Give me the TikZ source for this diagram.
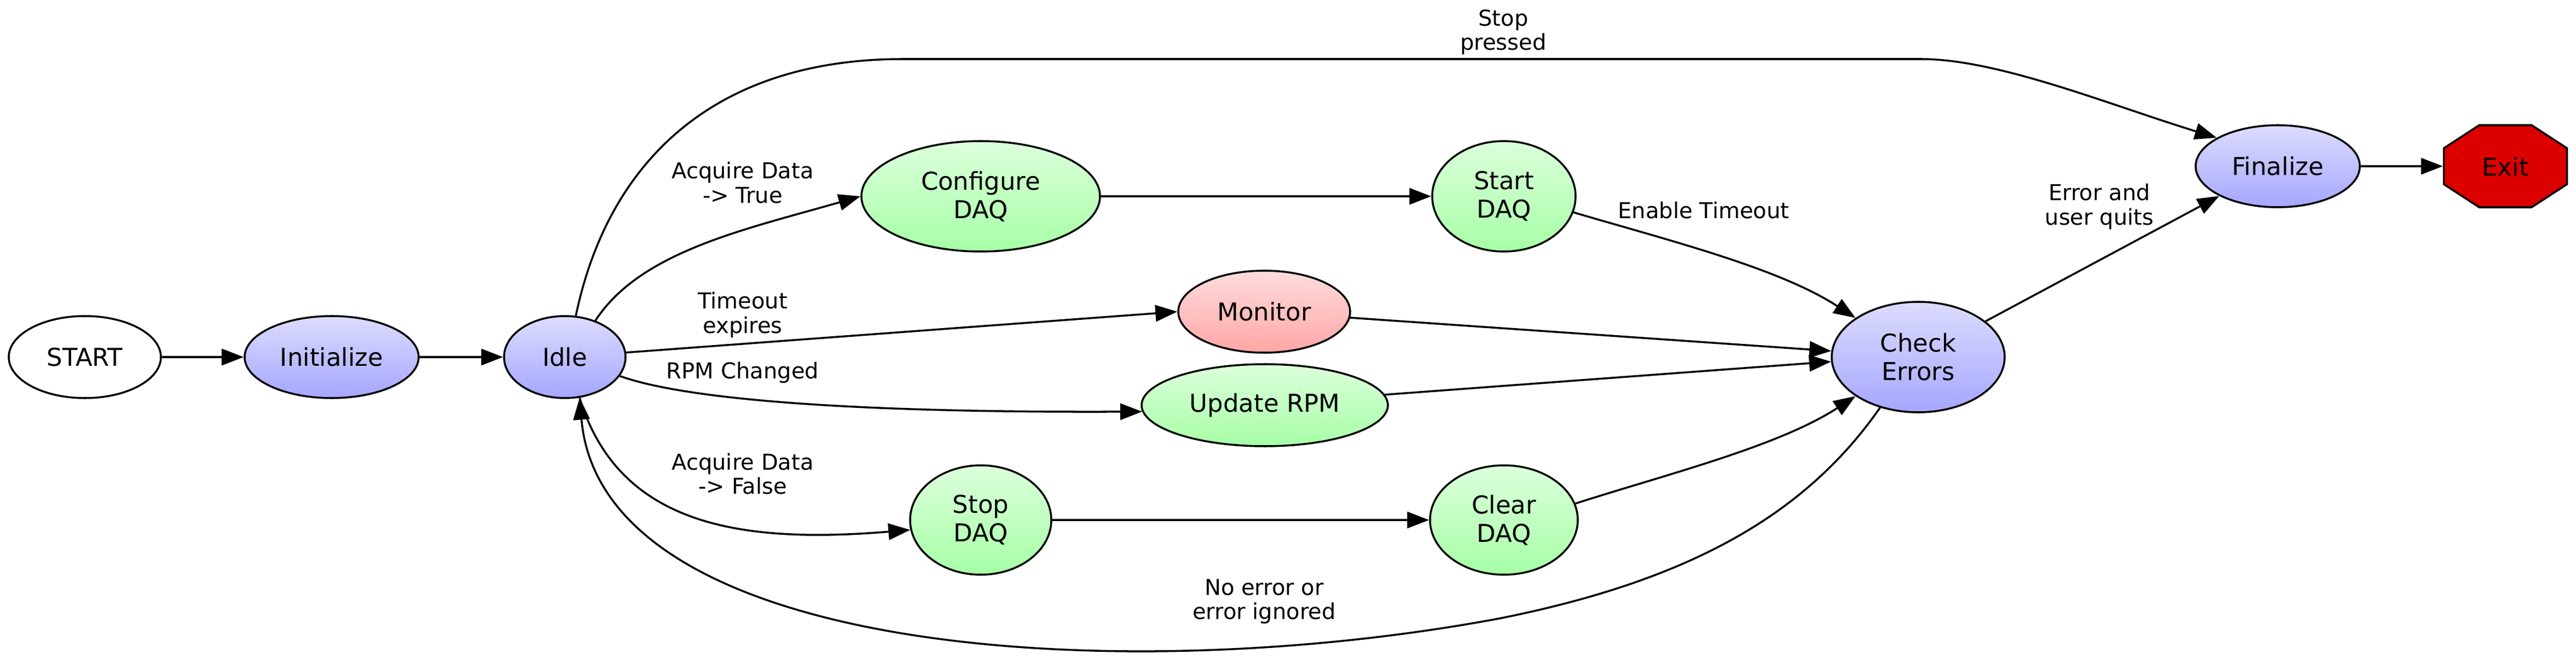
\documentclass[tikz,border=0pt]{standalone}
\usepackage{fontspec}
\setmainfont{DejaVu Sans}
\usetikzlibrary{shapes.geometric,arrows.meta}

\definecolor{bluetop}{HTML}{DCDCFF}
\definecolor{bluebot}{HTML}{A6A6FF}
\definecolor{greentop}{HTML}{DCFFDC}
\definecolor{greenbot}{HTML}{A6FFA6}
\definecolor{redtop}{HTML}{FFDCDC}
\definecolor{redbot}{HTML}{FFA6A6}
\definecolor{exitred}{HTML}{DD0000}

\newcommand{\statefont}{\fontsize{12.8}{14.8}\selectfont}
\newcommand{\labelfont}{\fontsize{11.4}{12.6}\selectfont}

\begin{document}
\begin{tikzpicture}[
	>={Triangle[length=0.4cm,width=0.3cm]},
	line width=1pt,
	startnode/.style={ellipse,draw,inner sep=0pt,minimum width=2.78cm,minimum height=1.5cm,font=\statefont},
	ctrlnode/.style={ellipse,draw,top color=bluetop,bottom color=bluebot,inner sep=0pt,minimum height=1.5cm,align=center,font=\statefont},
	daqnode/.style={ellipse,draw,top color=greentop,bottom color=greenbot,inner sep=0pt,minimum height=1.5cm,align=center,font=\statefont},
	monnode/.style={ellipse,draw,top color=redtop,bottom color=redbot,inner sep=0pt,minimum height=1.5cm,align=center,font=\statefont},
	exitnode/.style={rectangle,inner sep=0pt,minimum width=2.25cm,minimum height=1.5cm,font=\statefont},
	edgelabel/.style={align=center,inner sep=0pt,font=\labelfont}
]
\useasboundingbox (0,0) rectangle (47.07,-12.07);

% Zustaende
\node[startnode] (start) at (1.55,-6.53) {START};
\node[ctrlnode,minimum width=3.18cm] (init) at (6.06,-6.53) {Initialize};
\node[ctrlnode,minimum width=2.22cm] (idle) at (10.32,-6.53) {Idle};

\node[daqnode,minimum width=4.36cm,minimum height=2.02cm] (config) at (17.92,-3.59) {Configure\\DAQ};
\node[daqnode,minimum width=2.62cm,minimum height=2.02cm] (startdaq) at (27.48,-3.59) {Start\\DAQ};
\node[monnode,minimum width=3.14cm] (monitor) at (23.10,-5.70) {Monitor};
\node[daqnode,minimum width=4.50cm] (update) at (23.11,-7.41) {Update RPM};
\node[daqnode,minimum width=2.58cm,minimum height=2.0cm] (stopdaq) at (17.92,-9.51) {Stop\\DAQ};
\node[daqnode,minimum width=2.70cm,minimum height=2.0cm] (clear) at (27.48,-9.51) {Clear\\DAQ};

\node[ctrlnode,minimum width=3.16cm,minimum height=2.02cm] (check) at (35.05,-6.53) {Check\\Errors};
\node[ctrlnode,minimum width=3.0cm] (final) at (41.62,-3.04) {Finalize};

% Exit
\filldraw[fill=exitred,shift={(45.78,-3.04)}] (-0.48,0.75) -- (0.48,0.75) -- (1.125,0.33) -- (1.125,-0.33) -- (0.48,-0.75) -- (-0.48,-0.75) -- (-1.125,-0.33) -- (-1.125,0.33) -- cycle;
\node[exitnode] (exit) at (45.78,-3.04) {Exit};

% Uebergaenge
\draw[->] (start) -- (init);
\draw[->] (init) -- (idle);
\draw[->] (idle.50) .. controls (11.7,-4.6) and (13.6,-4.2) .. (config.west);
\draw[->] (idle.75) .. controls (11.1,-3.0) and (13.0,-1.08) .. (16.5,-1.08) -- (35.1,-1.08) .. controls (36.5,-1.08) and (38.5,-1.9) .. (final.155);
\draw[->] (idle) -- (monitor.west);
\draw[->] (idle.341) .. controls (12.5,-7.3) and (15.5,-7.55) .. (update.183);
\draw[->] (idle.290) .. controls (11.3,-9.6) and (13.5,-9.95) .. (stopdaq.188);
\draw[->] (config) -- (startdaq);
\draw[->] (stopdaq) -- (clear);
\draw[->] (startdaq.-13) .. controls (30.5,-4.4) and (32.5,-4.9) .. (check.148);
\draw[->] (monitor.-4) -- (check.176);
\draw[->] (update.5) -- (check.183);
\draw[->] (clear.13) .. controls (30.5,-8.66) and (32.5,-8.16) .. (check.212);
\draw[->] (check.233) .. controls (33.0,-9.4) and (30.9,-10.61) .. (27.4,-11.31) .. controls (20.5,-12.6) and (11.0,-12.0) .. (idle.290);
\draw[->] (check.28) -- (final.207);
\draw[->] (final) -- (exit);

% Beschriftungen
\node[edgelabel] (lbltrue) at (13.57,-3.34) {Acquire Data\\-> True};
\node[edgelabel] (lblstop) at (27.47,-0.585) {Stop\\pressed};
\node[edgelabel] (lbltimeout) at (13.57,-5.76) {Timeout\\expires};
\node[edgelabel] (lblrpm) at (13.57,-6.81) {RPM Changed};
\node[edgelabel] (lblfalse) at (13.57,-8.665) {Acquire Data\\-> False};
\node[edgelabel] (lblenable) at (31.13,-3.85) {Enable Timeout};
\node[edgelabel] (lblnoerr) at (23.10,-11.00) {No error or\\error ignored};
\node[edgelabel] (lblquit) at (38.36,-3.78) {Error and\\user quits};

\end{tikzpicture}
\end{document}
